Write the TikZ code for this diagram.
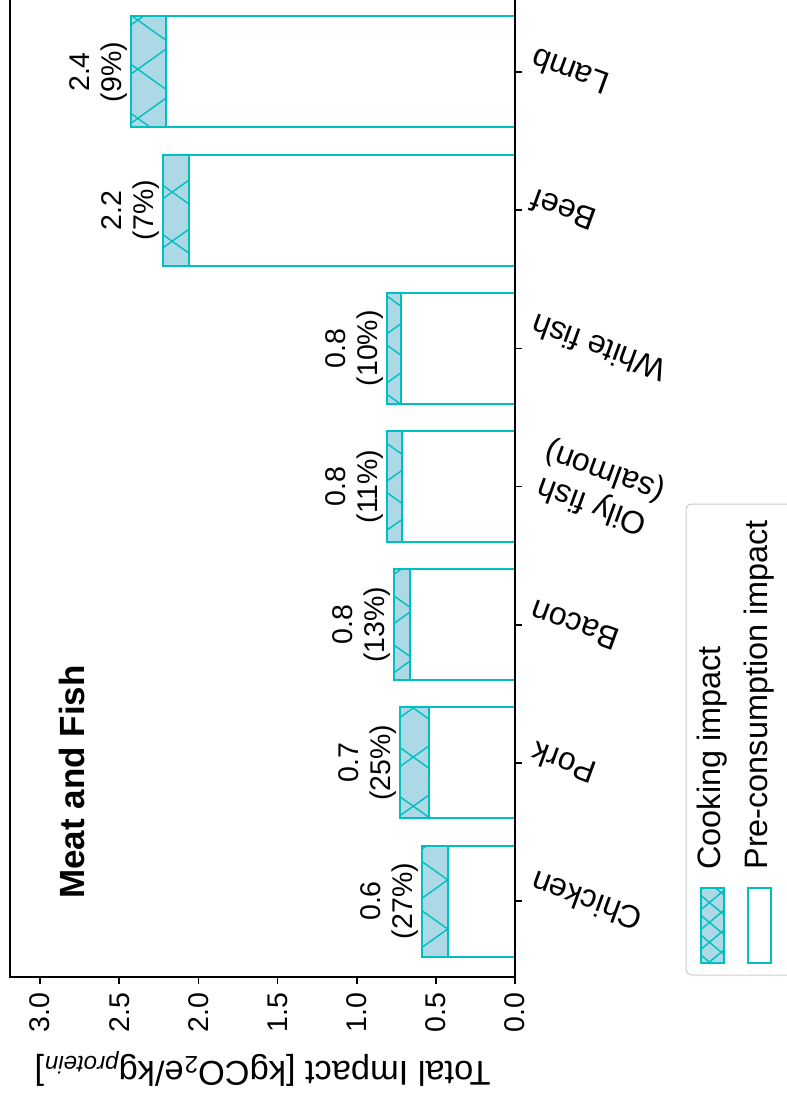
\documentclass[tikz,border=0pt]{standalone}
\usepackage{fontspec}
\setmainfont{Liberation Sans}
\usepackage{graphicx}
\usetikzlibrary{patterns.meta}
\definecolor{barcyan}{RGB}{0,191,191}
\definecolor{barfill}{RGB}{173,216,230}
\definecolor{legedge}{RGB}{204,204,204}

\begin{document}
\begin{tikzpicture}[x=0.5pt, y=-0.5pt,
		font=\fontsize{14.25}{16}\selectfont,
		spine/.style={line width=0.8pt, black},
		prebar/.style={draw=barcyan, line width=1pt, fill=white},
		cookbar/.style={draw=barcyan, line width=1pt, fill=barfill,
			postaction={pattern={Lines[angle=35.5, distance=20pt, line width=0.7pt]}, pattern color=barcyan},
			postaction={pattern={Lines[angle=-35.5, distance=20pt, line width=0.7pt]}, pattern color=barcyan}},
		cookkey/.style={draw=barcyan, line width=1pt, fill=barfill,
			postaction={pattern={Lines[angle=40, distance=7.6pt, line width=0.7pt]}, pattern color=barcyan},
			postaction={pattern={Lines[angle=-40, distance=7.6pt, line width=0.7pt]}, pattern color=barcyan}},
		vlab/.style={rotate=90, anchor=east, inner sep=0},
		blab/.style={rotate=90, anchor=south, align=center, inner sep=0},
		clab/.style={anchor=west, inner sep=0, font=\fontsize{16}{18}\selectfont},
		keylab/.style={rotate=90, anchor=west, inner sep=0, font=\fontsize{16.2}{18}\selectfont}]
	\useasboundingbox (0,0) rectangle (786,1101);
	
	% bars: cooking part, then pre-consumption part
	\draw[cookbar] (421.5,845.5) rectangle (448,956.5);
	\draw[prebar] (448,845.5) rectangle (515,956.5);
	\draw[cookbar] (400,707.3) rectangle (429,818.3);
	\draw[prebar] (429,707.3) rectangle (515,818.3);
	\draw[cookbar] (394,569.2) rectangle (410,680.2);
	\draw[prebar] (410,569.2) rectangle (515,680.2);
	\draw[cookbar] (387,431) rectangle (402,542);
	\draw[prebar] (402,431) rectangle (515,542);
	\draw[cookbar] (387,292.8) rectangle (401,403.8);
	\draw[prebar] (401,292.8) rectangle (515,403.8);
	\draw[cookbar] (163,154.7) rectangle (189,265.7);
	\draw[prebar] (189,154.7) rectangle (515,265.7);
	\draw[cookbar] (131,16.5) rectangle (166,127.5);
	\draw[prebar] (166,16.5) rectangle (515,127.5);
	
	% frame and ticks
	\draw[spine] (10,-5) rectangle (515,977);
	\foreach \x in {515,435.8,356.7,277.5,198.3,119.2,40}
		\draw[spine] (\x,977) -- (\x,984);
	\foreach \y in {901,762.8,624.7,486.5,348.3,210.2,72}
		\draw[spine] (515,\y) -- (522,\y);
	
	\node[vlab] (v00) at (515,992) {0.0};
	\node[vlab] (v05) at (435.8,992) {0.5};
	\node[vlab] (v10) at (356.7,992) {1.0};
	\node[vlab] (v15) at (277.5,992) {1.5};
	\node[vlab] (v20) at (198.3,992) {2.0};
	\node[vlab] (v25) at (119.2,992) {2.5};
	\node[vlab] (v30) at (40,992) {3.0};
	\node[rotate=180, font=\fontsize{17.2}{19}\selectfont] (vtitle) at (262.5,1069) {Total Impact [kgCO\textsubscript{2}e/kg\textsubscript{\textit{protein}}]};
	
	% category names
	\node[clab] (chicken) at (528,901) {\rotatebox{160}{Chicken}};
	\node[clab] (pork) at (528,762.8) {\rotatebox{160}{Pork}};
	\node[clab] (bacon) at (528,624.7) {\rotatebox{160}{Bacon}};
	\node[clab] (oily) at (528,486.5) {\rotatebox{160}{\begin{tabular}{@{}c@{}}Oily fish\\(salmon)\end{tabular}}};
	\node[clab] (white) at (528,348.3) {\rotatebox{160}{White fish}};
	\node[clab] (beef) at (528,210.2) {\rotatebox{160}{Beef}};
	\node[clab] (lamb) at (528,72) {\rotatebox{160}{Lamb}};
	
	% totals over the bars
	\node[blab] (tchicken) at (418.5,901) {0.6\\(27\%)};
	\node[blab] (tpork) at (397,762.8) {0.7\\(25\%)};
	\node[blab] (tbacon) at (391,624.7) {0.8\\(13\%)};
	\node[blab] (toily) at (384,486.5) {0.8\\(11\%)};
	\node[blab] (twhite) at (384,348.3) {0.8\\(10\%)};
	\node[blab] (tbeef) at (160,210.2) {2.2\\(7\%)};
	\node[blab] (tlamb) at (128,72) {2.4\\(9\%)};
	
	\node[rotate=90, font=\fontsize{17.5}{20}\selectfont\bfseries] (title) at (72,782) {Meat and Fish};
	
	% legend
	\draw[legedge, line width=0.5pt, fill=white, rounded corners=3pt] (686,504) rectangle (820,975);
	\draw[cookkey] (700.7,888) rectangle (724.3,963);
	\draw[prebar] (747.7,888) rectangle (771,963);
	\node[keylab] (kcook) at (712.5,870) {Cooking impact};
	\node[keylab] (kpre) at (759.4,870) {Pre-consumption impact};
\end{tikzpicture}
\end{document}
